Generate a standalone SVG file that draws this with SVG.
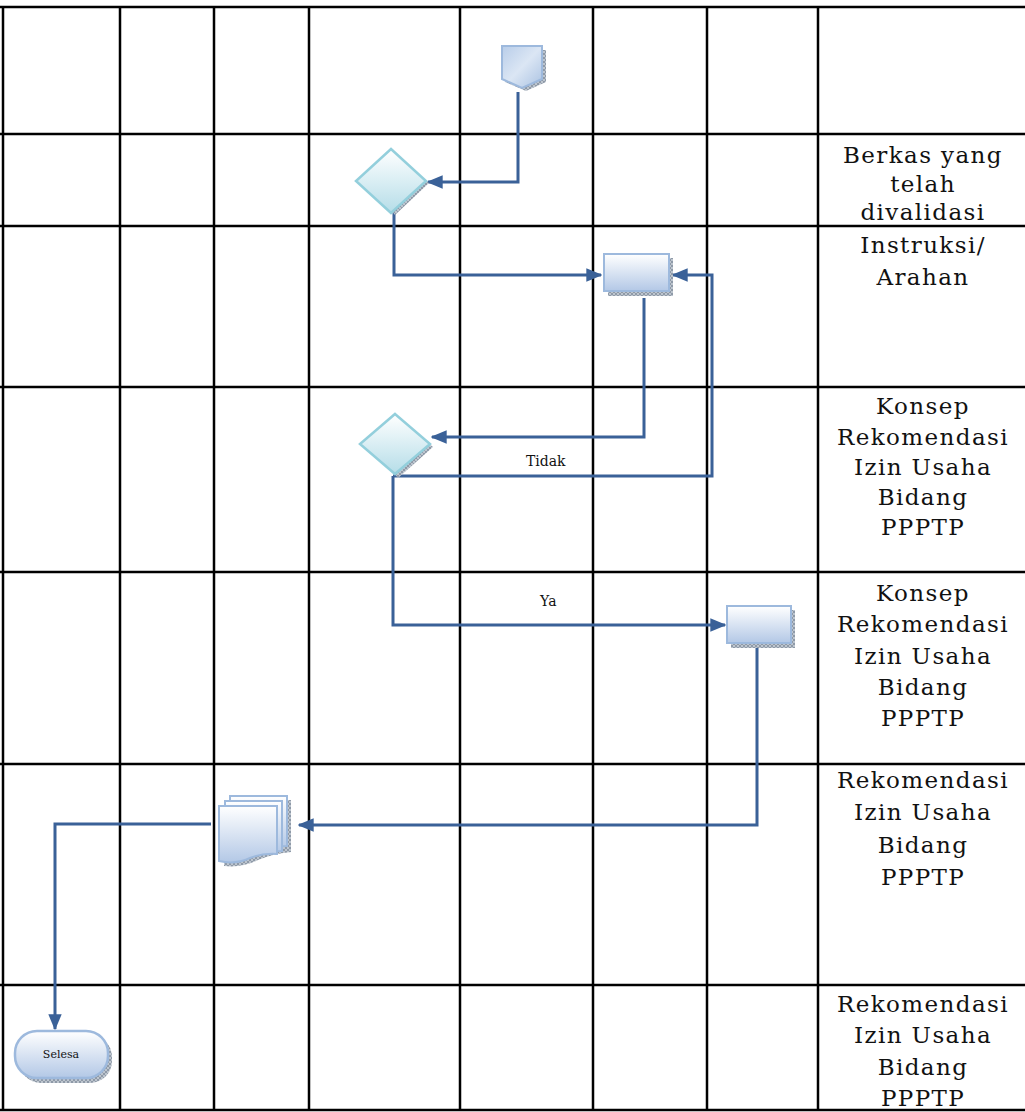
<svg xmlns="http://www.w3.org/2000/svg" width="1025" height="1112" viewBox="0 0 1025 1112">
  <defs>
    <linearGradient id="gBlue" x1="0" y1="0" x2="0" y2="1">
      <stop offset="0" stop-color="#ffffff"/>
      <stop offset="1" stop-color="#b3c8e6"/>
    </linearGradient>
    <linearGradient id="gConn" x1="0" y1="0" x2="1" y2="1">
      <stop offset="0" stop-color="#b8cde9"/>
      <stop offset="0.5" stop-color="#dbe6f4"/>
      <stop offset="1" stop-color="#aac2e2"/>
    </linearGradient>
    <linearGradient id="gCyan" x1="0" y1="0" x2="0" y2="1">
      <stop offset="0" stop-color="#ffffff"/>
      <stop offset="1" stop-color="#b5dde8"/>
    </linearGradient>
    <pattern id="hatch" width="4" height="4" patternUnits="userSpaceOnUse">
      <rect width="4" height="4" fill="#8f9aa8"/>
      <path d="M0 0L4 4M4 0L0 4" stroke="#c9d0d8" stroke-width="0.8"/>
    </pattern>
    <marker id="arrow" viewBox="0 0 12 10" refX="11" refY="5" markerWidth="16" markerHeight="14" orient="auto" markerUnits="userSpaceOnUse">
      <path d="M0 0L12 5L0 10z" fill="#3a6198"/>
    </marker>
  </defs>
  <style>
    .grid { stroke: #000; stroke-width: 2.5; fill: none; }
    .flow { stroke: #3a6198; stroke-width: 3; fill: none; marker-end: url(#arrow); }
    .proc { fill: url(#gBlue); stroke: #9db9dd; stroke-width: 2; }
    .dec { fill: url(#gCyan); stroke: #93cfdc; stroke-width: 2.5; }
    .shadow { fill: url(#hatch); }
    .side { font-family: "DejaVu Serif", "Liberation Serif", serif; font-size: 23px; letter-spacing: 1.4px; fill: #111; text-anchor: middle; }
    .lbl { font-family: "DejaVu Serif", "Liberation Serif", serif; font-size: 14px; fill: #111; }
  </style>

  <rect width="1025" height="1112" fill="#ffffff"/>

  <!-- table grid -->
  <g id="grid" class="grid">
    <line x1="0" y1="7" x2="1025" y2="7"/>
    <line x1="0" y1="134" x2="1025" y2="134"/>
    <line x1="0" y1="226" x2="1025" y2="226"/>
    <line x1="0" y1="387" x2="1025" y2="387"/>
    <line x1="0" y1="572" x2="1025" y2="572"/>
    <line x1="0" y1="764" x2="1025" y2="764"/>
    <line x1="0" y1="985" x2="1025" y2="985"/>
    <line x1="0" y1="1110" x2="1025" y2="1110"/>
    <line x1="3" y1="7" x2="3" y2="1111"/>
    <line x1="120" y1="7" x2="120" y2="1111"/>
    <line x1="214" y1="7" x2="214" y2="1111"/>
    <line x1="309" y1="7" x2="309" y2="1111"/>
    <line x1="460" y1="7" x2="460" y2="1111"/>
    <line x1="593" y1="7" x2="593" y2="1111"/>
    <line x1="707" y1="7" x2="707" y2="1111"/>
    <line x1="818" y1="7" x2="818" y2="1111"/>
  </g>

  <!-- connectors -->
  <g id="connectors">
    <path class="flow" d="M518 92 V182 H428"/>
    <path class="flow" d="M394 213 V275 H601"/>
    <path class="flow" d="M644 298 V437 H432"/>
    <path class="flow" d="M393 476 H712 V275 H673"/>
    <path class="flow" d="M393 476 V625 H725"/>
    <path class="flow" d="M757 648 V825 H299"/>
    <path class="flow" d="M211 824 H55 V1029"/>
    <text class="lbl" x="526" y="466">Tidak</text>
    <text class="lbl" x="540" y="606">Ya</text>
  </g>

  <!-- start: off-page connector -->
  <g id="start">
    <path class="shadow" d="M505 50 H546 V82 L526 91 L505 82 Z"/>
    <path d="M502 46 H542 V79 L522 88 L502 79 Z" fill="url(#gConn)" stroke="#9db9dd" stroke-width="2"/>
  </g>

  <!-- decision 1 -->
  <g id="decision1">
    <path class="shadow" d="M395 215 L429 183 L424 180 L391 210 Z"/>
    <path class="dec" d="M391 149 L426 181 L391 213 L356 181 Z"/>
  </g>

  <!-- process 1 -->
  <g id="process1">
    <rect class="shadow" x="608" y="258" width="65" height="38"/>
    <rect class="proc" x="604" y="254" width="65" height="37"/>
  </g>

  <!-- decision 2 -->
  <g id="decision2">
    <path class="shadow" d="M398 478 L433 447 L428 443 L394 473 Z"/>
    <path class="dec" d="M395 414 L430 444 L395 474 L360 444 Z"/>
  </g>

  <!-- process 2 -->
  <g id="process2">
    <rect class="shadow" x="731" y="610" width="64" height="38"/>
    <rect class="proc" x="727" y="606" width="64" height="37"/>
  </g>

  <!-- multi-document -->
  <g id="documents">
    <path class="shadow" d="M233 800 H291 V852 Q272 854 258 860 Q242 868 224 866 V860 H233 Z"/>
    <path class="proc" d="M230 796 H287 V846 Q267 846 230 848 Z"/>
    <path class="proc" d="M225 801 H282 V851 Q262 851 225 853 Z"/>
    <path class="proc" d="M219 806 H277 V854 Q262 853 250 858 Q235 865 219 861 Z"/>
  </g>

  <!-- end terminal -->
  <g id="end">
    <rect class="shadow" x="19" y="1035" width="93" height="48" rx="22"/>
    <rect x="15" y="1031" width="93" height="47" rx="22" fill="url(#gBlue)" stroke="#9db9dd" stroke-width="2.5"/>
    <text x="61" y="1058" font-family="DejaVu Serif, Liberation Serif, serif" font-size="11" text-anchor="middle" fill="#111">Selesa</text>
  </g>

  <!-- output column -->
  <g id="outputs">
    <text class="side" x="923" y="163">Berkas yang</text>
    <text class="side" x="923" y="192">telah</text>
    <text class="side" x="923" y="220">divalidasi</text>

    <text class="side" x="923" y="253">Instruksi/</text>
    <text class="side" x="923" y="285">Arahan</text>

    <text class="side" x="923" y="414">Konsep</text>
    <text class="side" x="923" y="445">Rekomendasi</text>
    <text class="side" x="923" y="475">Izin Usaha</text>
    <text class="side" x="923" y="505">Bidang</text>
    <text class="side" x="923" y="535">PPPTP</text>

    <text class="side" x="923" y="601">Konsep</text>
    <text class="side" x="923" y="632">Rekomendasi</text>
    <text class="side" x="923" y="664">Izin Usaha</text>
    <text class="side" x="923" y="695">Bidang</text>
    <text class="side" x="923" y="726">PPPTP</text>

    <text class="side" x="923" y="788">Rekomendasi</text>
    <text class="side" x="923" y="820">Izin Usaha</text>
    <text class="side" x="923" y="853">Bidang</text>
    <text class="side" x="923" y="885">PPPTP</text>

    <text class="side" x="923" y="1012">Rekomendasi</text>
    <text class="side" x="923" y="1043">Izin Usaha</text>
    <text class="side" x="923" y="1075">Bidang</text>
    <text class="side" x="923" y="1106">PPPTP</text>
  </g>
</svg>
